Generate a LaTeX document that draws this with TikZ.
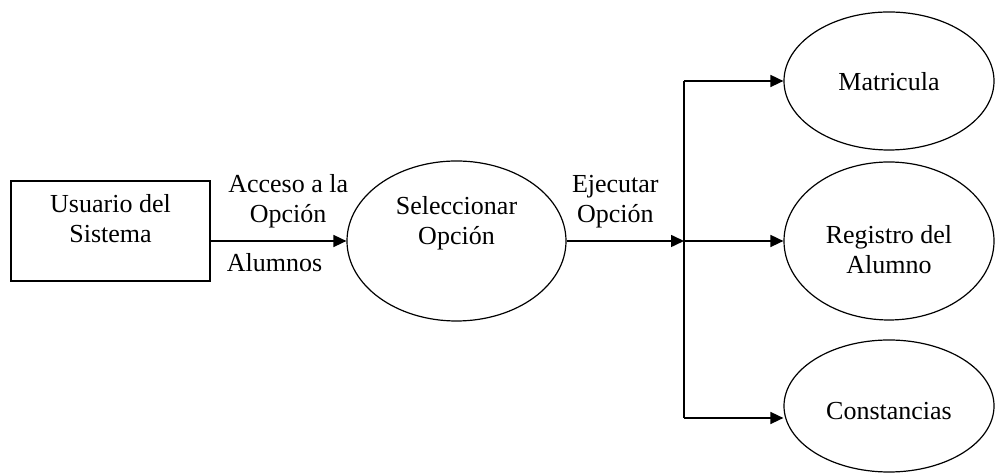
\documentclass[tikz,border=0pt]{standalone}
\usepackage{fontspec}
\setmainfont{Liberation Serif}
\usetikzlibrary{shapes,arrows.meta}
\tikzstyle{block} = [rectangle, draw, line width=1pt, minimum width=99.5pt, minimum height=50pt, inner sep=0]
\tikzstyle{process} = [ellipse, draw, line width=0.6pt, inner sep=0, minimum width=105pt]
\tikzstyle{txt} = [align=center, inner sep=0, font=\fontsize{13}{15}\selectfont]
\tikzstyle{line} = [draw, line width=0.8pt, -{Triangle[length=6.5pt,width=6pt]}]

\begin{document}
\begin{tikzpicture}[x=0.5pt,y=-0.5pt]
\useasboundingbox (0,0) rectangle (996,474);

% shapes
\node [block] (user) at (110.5,231) {};
\node [process, minimum width=109.5pt, minimum height=80pt] (select) at (456.5,241) {};
\node [process, minimum height=69pt] (enroll) at (889,81) {};
\node [process, minimum height=79pt] (record) at (889,241) {};
\node [process, minimum height=66pt] (certif) at (889,406) {};

% texts
\node [txt] (user_txt) at ([yshift=6pt]user.center) {Usuario del\\Sistema};
\node [txt] (select_txt) at ([yshift=9pt]select.center) {Seleccionar\\Opción};
\node [txt] (enroll_txt) at ([yshift=-0.5pt]enroll.center) {Matricula};
\node [txt] (record_txt) at ([yshift=-4.5pt]record.center) {Registro del\\Alumno};
\node [txt] (certif_txt) at ([yshift=-2.5pt]certif.center) {Constancias};

% branch points
\coordinate (fork) at (684,241);
\coordinate (fork_top) at (fork |- enroll.west);
\coordinate (fork_bot) at (684,418);

\path [line] (user.east |- select.west) -- node[txt, pos=0.57, above=6pt] {Acceso a la\\Opción}
  node[txt, pos=0.47, below=6pt] {Alumnos} (select.west);
\path [line] (select.east) -- node[txt, pos=0.415, above=6pt] {Ejecutar\\Opción} (fork);
\draw [line width=0.8pt] (fork_top) -- (fork_bot);
\path [line] (fork_top) -- (enroll.west);
\path [line] (fork) -- (record.west);
\path [line] (fork_bot) -- (fork_bot -| certif.west);

\end{tikzpicture}
\end{document}
